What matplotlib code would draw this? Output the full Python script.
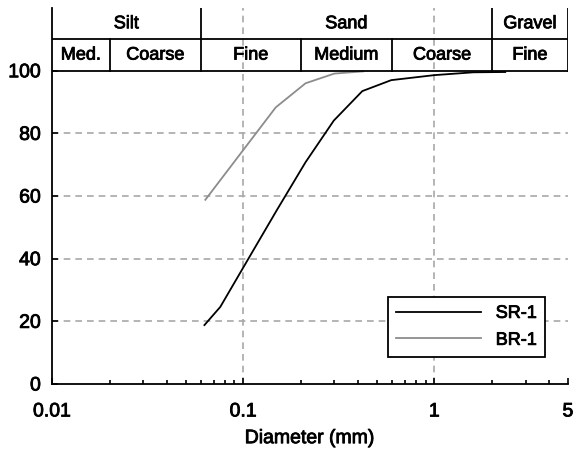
import matplotlib
matplotlib.use("Agg")
import matplotlib.pyplot as plt
import matplotlib.patheffects as pe
from matplotlib.ticker import FixedLocator, LogLocator, NullFormatter

plt.rcParams['font.family'] = ['Liberation Sans', 'DejaVu Sans']

# grain size distribution data (diameter in mm, percent passing)
sr1_d = [0.0627, 0.0759, 0.107, 0.15, 0.212, 0.298, 0.42, 0.595, 1.0, 1.6, 2.35]
sr1_p = [18.8, 24.6, 40.2, 55.5, 70.8, 84.1, 93.5, 97.0, 98.6, 99.5, 99.6]
br1_d = [0.0634, 0.148, 0.212, 0.30, 0.425]
br1_p = [58.8, 88.3, 96.0, 99.1, 99.8]

# classification header
top_labels = ["Silt", "Sand", "Gravel"]
top_edges = [0.01, 0.06, 2.0, 5.0]
sub_labels = ["Med.", "Coarse", "Fine", "Medium", "Coarse", "Fine"]
sub_edges = [0.01, 0.02, 0.06, 0.2, 0.6, 2.0, 5.0]

y_ticks = [0, 20, 40, 60, 80, 100]
x_ticks = [0.01, 0.1, 1, 5]
x_ticklabels = ["0.01", "0.1", "1", "5"]

fig = plt.figure(figsize=(5.76, 4.5), dpi=100)
ax = fig.add_axes([0.0903, 0.1467, 0.8957, 0.8353])
ax.set_xscale("log")
ax.set_xlim(0.01, 5)
ax.set_ylim(0, 120)

fs = 13
gridc = "#a8a8a8"
# heavier text look, like the aliased rendering in the original
heavy = [pe.withStroke(linewidth=0.6, foreground="black")]

# grid
for y in y_ticks[1:-1]:
    ax.plot([0.01, 5], [y, y], color=gridc, ls=(0, (4, 3)), lw=1.2, zorder=0)
for x in [0.1, 1]:
    ax.plot([x, x], [0, 120], color=gridc, ls=(0, (4, 3)), lw=1.2, zorder=0)

ax.plot(sr1_d, sr1_p, color="black", lw=1.3, label="SR-1", zorder=3)
ax.plot(br1_d, br1_p, color="#8c8c8c", lw=1.3, label="BR-1", zorder=3)

# header table
ax.plot([0.01, 5], [100, 100], color="black", lw=1.3, zorder=4)
ax.plot([0.01, 5], [110, 110], color="black", lw=1.3, zorder=4)
for e in top_edges[1:]:
    ax.plot([e, e], [110, 120], color="black", lw=1.3, zorder=4)
for e in sub_edges[1:]:
    ax.plot([e, e], [100, 110], color="black", lw=1.3, zorder=4)
for i, lab in enumerate(top_labels):
    xc = (top_edges[i] * top_edges[i + 1]) ** 0.5
    ax.text(xc, 115, lab, ha="center", va="center", fontsize=fs, path_effects=heavy)
for i, lab in enumerate(sub_labels):
    xc = (sub_edges[i] * sub_edges[i + 1]) ** 0.5
    ax.text(xc, 105, lab, ha="center", va="center", fontsize=fs, path_effects=heavy)

for s in ["top", "right"]:
    ax.spines[s].set_visible(False)
for s in ["left", "bottom"]:
    ax.spines[s].set_linewidth(1.3)

ax.yaxis.set_major_locator(FixedLocator(y_ticks))
ax.xaxis.set_major_locator(FixedLocator(x_ticks))
ax.set_xticklabels(x_ticklabels)
ax.xaxis.set_minor_locator(LogLocator(base=10, subs=range(2, 10)))
ax.xaxis.set_minor_formatter(NullFormatter())
ax.tick_params(axis="both", which="major", direction="in", length=4, width=1.2,
               labelsize=14)
ax.tick_params(axis="x", which="major", pad=14)
ax.tick_params(axis="y", which="major", pad=8)
ax.tick_params(axis="x", which="minor", direction="in", length=3, width=1.2)
ax.set_xlabel("Diameter (mm)", fontsize=14, labelpad=7, path_effects=heavy)
for t in ax.get_xticklabels() + ax.get_yticklabels():
    t.set_path_effects(heavy)

leg = ax.legend(loc="lower right", bbox_to_anchor=(0.955, 0.072), fontsize=fs,
                frameon=True, fancybox=False, edgecolor="black", framealpha=1,
                handlelength=4.7, borderpad=0.45, labelspacing=0.55,
                borderaxespad=0)
leg.get_frame().set_linewidth(1.3)
for t in leg.get_texts():
    t.set_path_effects(heavy)

fig.savefig("out.png", dpi=100)
